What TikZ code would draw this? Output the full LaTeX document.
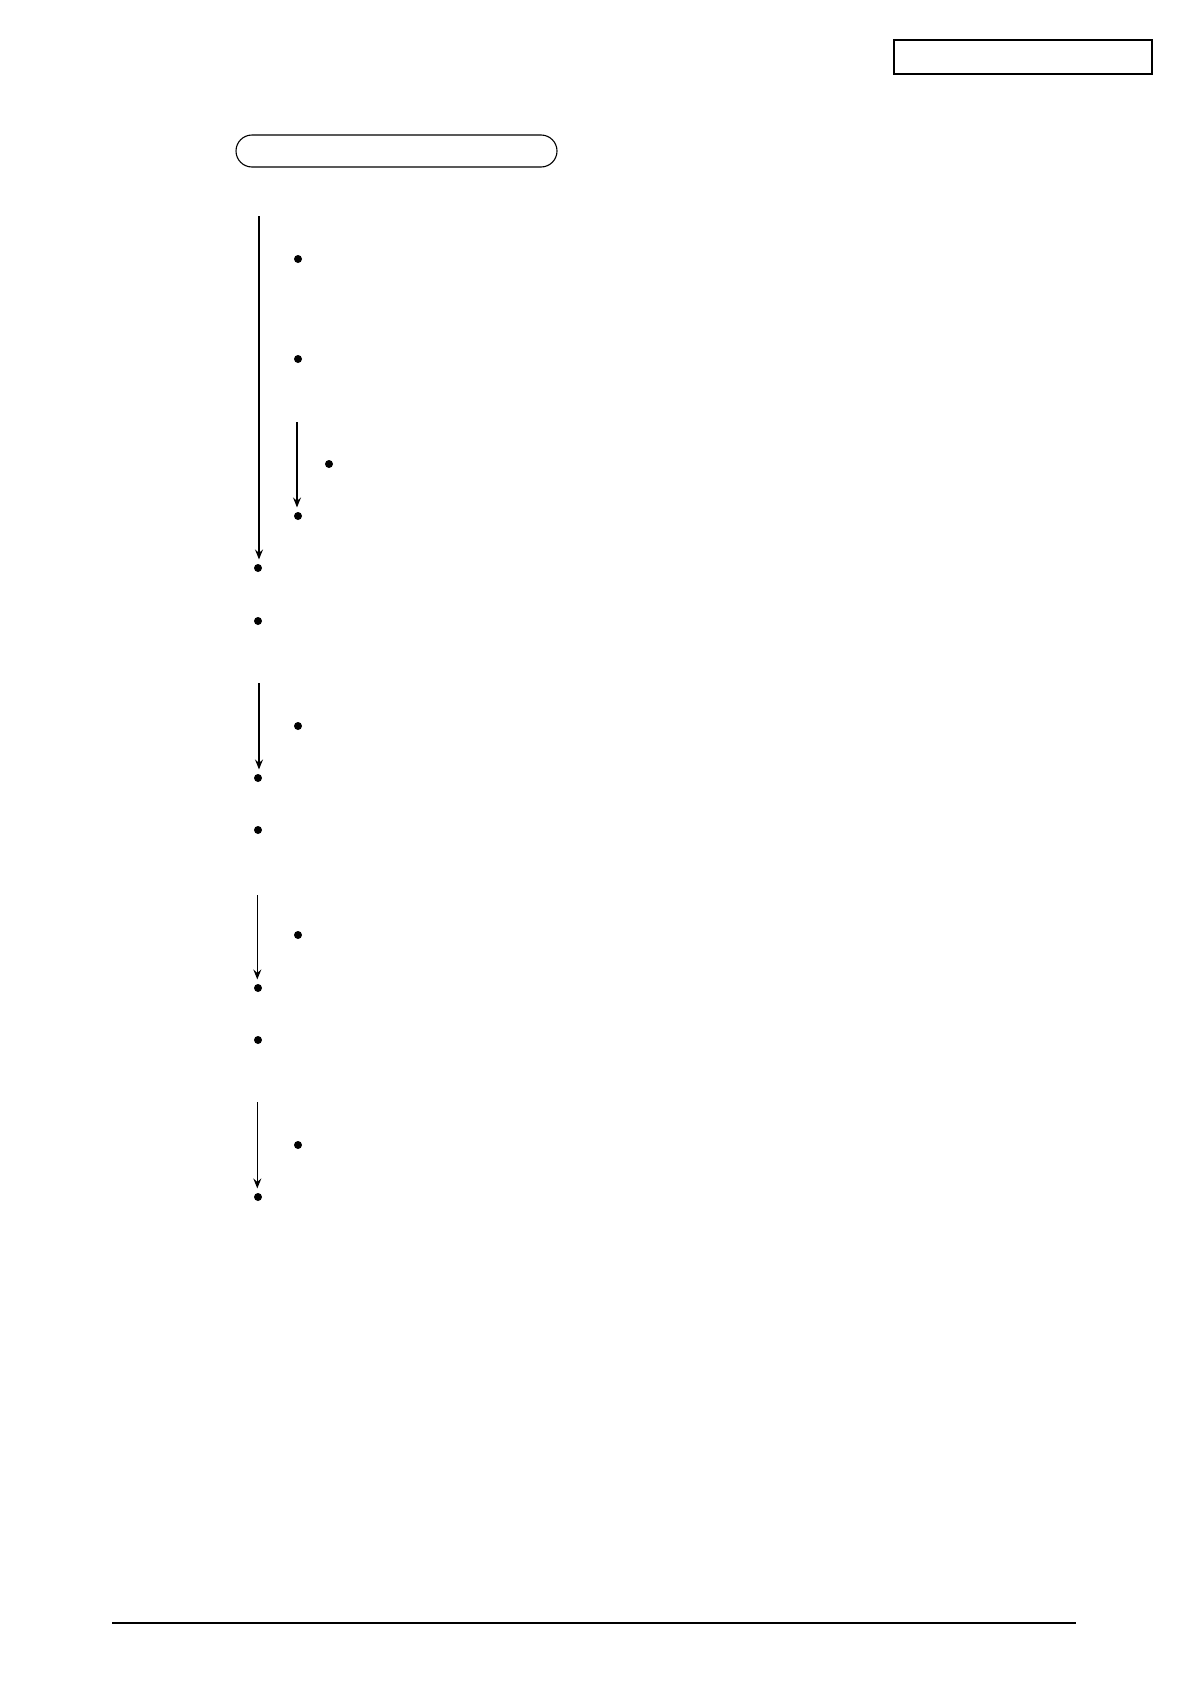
\documentclass[tikz,border=0pt]{standalone}
\usetikzlibrary{positioning, shapes, arrows.meta}

\begin{document}
\begin{tikzpicture}[x=1pt, y=-1pt, line width=1.1pt,
        dot/.style={circle, fill, inner sep=0pt, minimum size=8pt},
        flow/.style={-{Stealth[length=10pt, width=8pt, inset=3.5pt]}, shorten >=4pt}]
        \useasboundingbox (0,0) rectangle (1190,1684);

        % Header boxes
        \node[draw, rectangle, minimum width=258pt, minimum height=34pt] (page) at (1023,57) {};
        \node[draw, rectangle, rounded corners=16pt, minimum width=321pt, minimum height=32pt] (title) at (396.5,151) {};

        % Bullets
        \node[dot] (B1) at (298,259) {};
        \node[dot] (B2) at (298,359) {};
        \node[dot] (B3) at (329,464) {};
        \node[dot] (B4) at (298,516) {};
        \node[dot] (B5) at (258,568) {};
        \node[dot] (B6) at (258,621) {};
        \node[dot] (B7) at (298,726) {};
        \node[dot] (B8) at (258,778) {};
        \node[dot] (B9) at (258,830) {};
        \node[dot] (B10) at (298,935) {};
        \node[dot] (B11) at (258,988) {};
        \node[dot] (B12) at (258,1040) {};
        \node[dot] (B13) at (298,1145) {};
        \node[dot] (B14) at (258,1197) {};

        % Arrow starts
        \coordinate (S1) at (259,216);
        \coordinate (S2) at (297,422);
        \coordinate (S3) at (259,683);
        \coordinate (S4) at (257.3,895);
        \coordinate (S5) at (257.3,1102);

        % Arrows
        \draw[flow] (S1) -- (S1 |- B5.north);
        \draw[flow] (S2) -- (S2 |- B4.north);
        \draw[flow] (S3) -- (S3 |- B8.north);
        \draw[flow] (S4) -- (S4 |- B11.north);
        \draw[flow] (S5) -- (S5 |- B14.north);

        % Footer rule
        \coordinate (F1) at (112,1623);
        \coordinate (F2) at (1076,1623);
        \draw (F1) -- (F2);
    \end{tikzpicture}
\end{document}
